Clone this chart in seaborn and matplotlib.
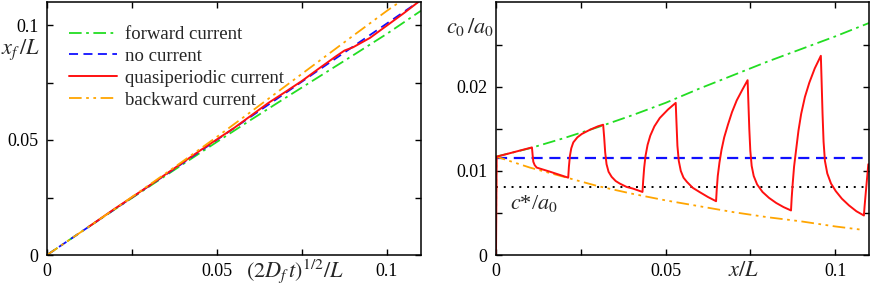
import matplotlib
matplotlib.use("Agg")
import matplotlib.pyplot as plt
import seaborn as sns
import numpy as np
import pandas as pd

# ---------------- Data: left panel (front position vs sqrt time) ----------------
fwd_x = [0, 0.01, 0.02, 0.03, 0.04, 0.05, 0.06, 0.07, 0.08, 0.09, 0.10, 0.11]
fwd_y = [0, 0.0100, 0.0199, 0.0297, 0.0395, 0.0492, 0.0588, 0.0682, 0.0775, 0.0868, 0.0962, 0.1062]

noc_x = [0, 0.01, 0.02, 0.03, 0.04, 0.05, 0.06, 0.07, 0.08, 0.09, 0.10, 0.1092]
noc_y = [0, 0.0100, 0.0200, 0.0300, 0.0400, 0.0501, 0.0602, 0.0703, 0.0805, 0.0906, 0.1007, 0.1100]

qp_x = [0.0125, 0.02, 0.025, 0.03, 0.035, 0.04, 0.045, 0.05, 0.055, 0.06, 0.065,
        0.07, 0.075, 0.08, 0.085, 0.0875, 0.09, 0.095, 0.10, 0.105, 0.1092]
qp_y = [0.0125, 0.0202, 0.0251, 0.0301, 0.0352, 0.0403, 0.0454, 0.0503, 0.0552, 0.0606, 0.0660,
        0.0708, 0.0757, 0.0811, 0.0864, 0.0889, 0.0903, 0.0944, 0.0998, 0.1052, 0.1100]

bwd_x = [0, 0.01, 0.02, 0.03, 0.04, 0.05, 0.06, 0.07, 0.08, 0.09, 0.10, 0.1037]
bwd_y = [0, 0.0100, 0.0201, 0.0304, 0.0408, 0.0514, 0.0623, 0.0733, 0.0843, 0.0953, 0.1062, 0.1100]

# ---------------- Data: right panel (c0/a0 vs x/L) ----------------
g_x = [0.0, 0.01, 0.02, 0.03, 0.04, 0.05, 0.06, 0.07, 0.08, 0.09, 0.10, 0.11]
g_y = [0.0117, 0.0127, 0.0139, 0.0152, 0.0166, 0.0181, 0.0198, 0.0214, 0.0230, 0.0245, 0.0260, 0.0276]

b_x = [0.0, 0.11]
b_y = [0.0115, 0.0115]

o_x = [0.0, 0.0001, 0.01, 0.02, 0.03, 0.04, 0.05, 0.06, 0.07, 0.08, 0.09, 0.10, 0.108]
o_y = [0.0, 0.0117, 0.0104, 0.0093, 0.0082, 0.0073, 0.0065, 0.0058, 0.0051, 0.0045, 0.0040, 0.0034, 0.0030]

cstar_x = [0.0, 0.11]
cstar_y = [0.0081, 0.0081]

r_x = [0.0, 0.0002, 0.0106,
       0.0108, 0.0110, 0.0114, 0.0120, 0.0160, 0.0213,
       0.0215, 0.0218, 0.0222, 0.0228, 0.0240, 0.0253, 0.0277, 0.0300, 0.0316,
       0.0319, 0.0322, 0.0326, 0.0332, 0.0341, 0.0353, 0.0365, 0.0385, 0.0404, 0.0432,
       0.0434, 0.0437, 0.0441, 0.0447, 0.0455, 0.0467, 0.0483, 0.0507, 0.0530,
       0.0532, 0.0535, 0.0539, 0.0545, 0.0553, 0.0563, 0.0580, 0.0600, 0.0625, 0.0649,
       0.0651, 0.0654, 0.0659, 0.0665, 0.0673, 0.0684, 0.0696, 0.0710, 0.0727, 0.0742,
       0.0744, 0.0747, 0.0750, 0.0754, 0.0760, 0.0770, 0.0786, 0.0805, 0.0826, 0.0848, 0.0870,
       0.0872, 0.0875, 0.0879, 0.0885, 0.0892, 0.0900, 0.0911, 0.0924, 0.0940, 0.0958,
       0.0960, 0.0963, 0.0966, 0.0970, 0.0977, 0.0988, 0.1002, 0.1020, 0.1041, 0.1063, 0.1085,
       0.1087, 0.1090, 0.1094, 0.1098]
r_y = [0.0, 0.0117, 0.0128,
       0.0119, 0.0111, 0.0107, 0.0104, 0.0099, 0.0092,
       0.0105, 0.0118, 0.0127, 0.0134, 0.0140, 0.0144, 0.0149, 0.0153, 0.0155,
       0.0140, 0.0122, 0.0108, 0.0099, 0.0093, 0.0088, 0.0085, 0.0081, 0.0079, 0.0075,
       0.0088, 0.0104, 0.0118, 0.0131, 0.0142, 0.0153, 0.0163, 0.0173, 0.0181,
       0.0160, 0.0130, 0.0112, 0.0100, 0.0092, 0.0087, 0.0080, 0.0075, 0.0069, 0.0064,
       0.0078, 0.0094, 0.0110, 0.0125, 0.0140, 0.0155, 0.0170, 0.0184, 0.0197, 0.0208,
       0.0185, 0.0150, 0.0124, 0.0106, 0.0094, 0.0084, 0.0075, 0.0068, 0.0062, 0.0057, 0.0053,
       0.0068, 0.0085, 0.0105, 0.0125, 0.0148, 0.0168, 0.0188, 0.0205, 0.0222, 0.0237,
       0.0210, 0.0168, 0.0135, 0.0112, 0.0097, 0.0085, 0.0076, 0.0067, 0.0059, 0.0052, 0.0047,
       0.0058, 0.0072, 0.0090, 0.0108]

labels = ["forward current", "no current", "quasiperiodic current", "backward current"]
left_xticks = [0, 0.025, 0.05, 0.075, 0.1]
left_xticklabels = ["0", "", "0.05", "", "0.1"]
right_yticks = [0, 0.005, 0.01, 0.015, 0.02, 0.025]
right_yticklabels = ["0", "", "0.01", "", "0.02", ""]

GREEN = "#22dd22"
BLUE = "#1010ff"
RED = "#ff1010"
ORANGE = "#ffa500"

sns.set_style("ticks")
plt.rcParams["font.family"] = ["Liberation Serif", "DejaVu Serif"]
plt.rcParams["mathtext.fontset"] = "stix"

fig = plt.figure(figsize=(8.72, 2.93), dpi=100)
W, H = 872, 293
axL = fig.add_axes([47 / W, 1 - 255 / H, 374 / W, 253 / H])
axR = fig.add_axes([496 / W, 1 - 255 / H, 373 / W, 253 / H])

lw = 1.3
ls_dashdot = (0, (7, 2.5, 1.5, 2.5))
ls_dash = (0, (5, 3))
ls_dd = (0, (7, 2.5, 1.5, 2.5, 1.5, 2.5))
ls_dot = (0, (1, 3))

def line(ax, x, y, color, ls, label=None, lw_=lw):
    sns.lineplot(x=x, y=y, ax=ax, color=color, linestyle=ls, linewidth=lw_,
                 estimator=None, sort=False, label=label, legend=False)

# Left panel
line(axL, fwd_x, fwd_y, GREEN, ls_dashdot, labels[0])
line(axL, noc_x, noc_y, BLUE, ls_dash, labels[1])
line(axL, qp_x, qp_y, RED, "-", labels[2], 1.4)
line(axL, bwd_x, bwd_y, ORANGE, ls_dd, labels[3])

# Right panel
line(axR, g_x, g_y, GREEN, ls_dashdot)
line(axR, b_x, b_y, BLUE, ls_dash, lw_=1.6)
line(axR, cstar_x, cstar_y, "black", ls_dot, lw_=1.4)
line(axR, o_x, o_y, ORANGE, ls_dd)
line(axR, r_x, r_y, RED, "-", lw_=1.4)

for ax in (axL, axR):
    ax.set_xlim(0, 0.11)
    ax.set_xticks(left_xticks)
    ax.set_xticklabels(left_xticklabels)
    ax.tick_params(direction="in", top=True, right=True, length=4, width=1,
                   labelsize=13, pad=6, colors="black")
    for s in ax.spines.values():
        s.set_linewidth(1.1)
        s.set_color("black")
    ax.set_xlabel("")
    ax.set_ylabel("")

axL.set_ylim(0, 0.11)
axL.set_yticks(left_xticks)
axL.set_yticklabels(left_xticklabels)

axR.set_ylim(0, 0.0301)
axR.set_yticks(right_yticks)
axR.set_yticklabels(right_yticklabels)

leg = axL.legend(loc="upper left", bbox_to_anchor=(0.058, 0.905), frameon=False,
                 fontsize=13.5, handlelength=2.6, handletextpad=0.4,
                 labelspacing=0.25, borderpad=0, borderaxespad=0)

# Axis labels placed as in the reference
fig.text(1 / W, 1 - 50 / H, r"$x_f\,/L$", fontsize=16, ha="left", va="center")
fig.text(295 / W, 1 - 271 / H, r"$(2D_f\,t)^{1/2}/L$", fontsize=16, ha="center", va="center")
fig.text(446 / W, 1 - 27 / H, r"$c_0\,/a_0$", fontsize=16, ha="left", va="center")
fig.text(744 / W, 1 - 271 / H, r"$x/L$", fontsize=16, ha="center", va="center")
axR.text(0.0040, 0.0061, r"$c$*/$a_0$", fontsize=16, ha="left", va="center")

fig.savefig("out.png", dpi=100)
